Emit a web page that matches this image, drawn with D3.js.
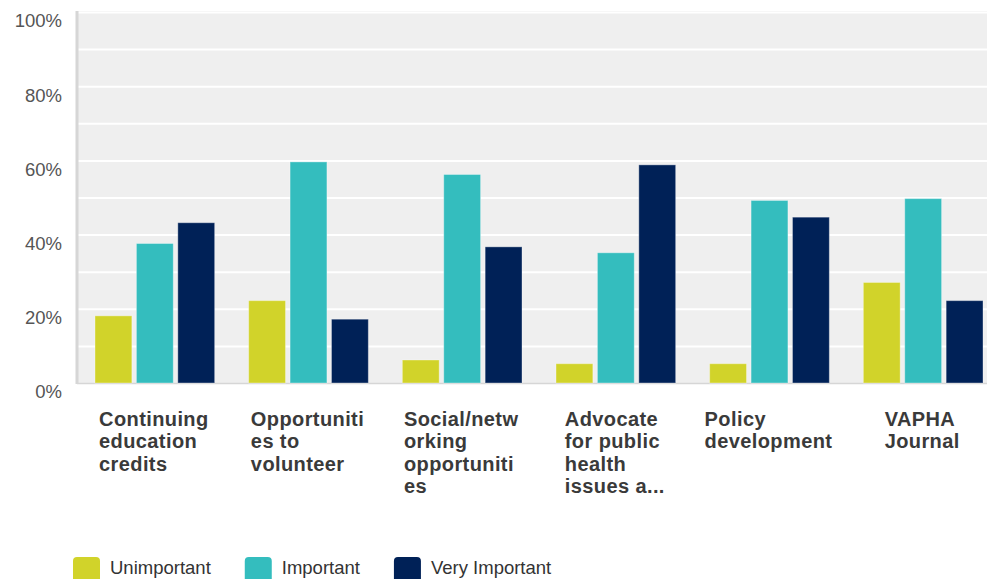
<!DOCTYPE html>
<html>
<head>
<meta charset="utf-8">
<script src="https://cdn.jsdelivr.net/npm/d3@7"></script>
<style>
  html, body { margin: 0; padding: 0; background: #ffffff; }
  svg { display: block; font-family: "Liberation Sans", Arial, sans-serif; }
</style>
</head>
<body>
<svg id="chart" width="987" height="579"></svg>
<script>
// Survey categories (wrapped lines as shown under each group)
const categories = [
  ["Continuing", "education", "credits"],
  ["Opportuniti", "es to", "volunteer"],
  ["Social/netw", "orking", "opportuniti", "es"],
  ["Advocate", "for public", "health", "issues a..."],
  ["Policy", "development"],
  ["VAPHA", "Journal"]
];
const seriesNames = ["Unimportant", "Important", "Very Important"];
const seriesColors = ["#D1D32A", "#34BDBE", "#002157"];
// Share of respondents per category (fractions)
const unimportant   = [0.181, 0.222, 0.062, 0.052, 0.052, 0.271];
const important     = [0.376, 0.596, 0.562, 0.351, 0.492, 0.497];
const veryImportant = [0.432, 0.172, 0.367, 0.588, 0.447, 0.222];
const yTicks = [0, 0.2, 0.4, 0.6, 0.8, 1.0];
const gridTicks = [0.1, 0.2, 0.3, 0.4, 0.5, 0.6, 0.7, 0.8, 0.9, 1.0];

const series = [unimportant, important, veryImportant];

const svg = d3.select("#chart");
const plot = { left: 77, right: 999, top: 11, bottom: 383 };

const x = d3.scaleBand()
  .domain(d3.range(categories.length))
  .range([plot.left, plot.right])
  .paddingInner(0)
  .paddingOuter(0);

const xInner = d3.scaleBand()
  .domain(d3.range(seriesNames.length))
  .range([18, x.bandwidth() - 16])
  .paddingInner(0.11);

const y = d3.scaleLinear().domain([0, 1]).range([plot.bottom, plot.top + 1]);

// Plot background
svg.append("rect")
  .attr("x", plot.left)
  .attr("y", plot.top)
  .attr("width", plot.right - plot.left)
  .attr("height", plot.bottom - plot.top)
  .attr("fill", "#EFEFEF");

// Horizontal gridlines
const grid = svg.append("g")
  .attr("transform", `translate(${plot.left},0)`)
  .call(d3.axisLeft(y).tickValues(gridTicks).tickSize(-(plot.right - plot.left)).tickFormat(""));
grid.select(".domain").remove();
grid.selectAll(".tick line").attr("stroke", "#ffffff").attr("stroke-width", 2);

// Left axis line and baseline
svg.append("line")
  .attr("x1", plot.left).attr("x2", plot.left)
  .attr("y1", plot.top).attr("y2", plot.bottom + 1)
  .attr("stroke", "#D6D6D6").attr("stroke-width", 3);
svg.append("line")
  .attr("x1", plot.left).attr("x2", plot.right)
  .attr("y1", plot.bottom + 0.5).attr("y2", plot.bottom + 0.5)
  .attr("stroke", "#D6D6D6").attr("stroke-width", 1.5);

// Y-axis labels
const yAxis = svg.append("g")
  .attr("transform", `translate(${plot.left - 15},0)`)
  .call(d3.axisLeft(y).tickValues(yTicks).tickSize(0).tickPadding(0).tickFormat(d3.format(".0%")));
yAxis.select(".domain").remove();
yAxis.selectAll("text")
  .attr("font-family", "'Liberation Sans', Arial, sans-serif")
  .attr("font-size", 18.5)
  .attr("fill", "#555555")
  .attr("dy", "0.32em")
  .attr("transform", "translate(0,9)");

// Bars
const groups = svg.append("g").selectAll("g")
  .data(categories.map((c, i) => i))
  .join("g")
  .attr("transform", i => `translate(${x(i)},0)`);

groups.selectAll("rect")
  .data(i => series.map((s, k) => ({ k, v: s[i] })))
  .join("rect")
  .attr("x", d => xInner(d.k))
  .attr("width", xInner.bandwidth())
  .attr("y", d => y(d.v))
  .attr("height", d => y(0) - y(d.v))
  .attr("fill", d => seriesColors[d.k])
  .attr("stroke", "rgba(255,255,255,0.35)")
  .attr("stroke-width", 1);

// Category labels: left-aligned lines, block centred under each group
const labels = svg.append("g").selectAll("text")
  .data(categories)
  .join("text")
  .attr("font-size", 20)
  .attr("font-weight", "bold")
  .attr("letter-spacing", 0.4)
  .attr("fill", "#3a3a3a")
  .attr("y", 426);

labels.each(function(lines, i) {
  const t = d3.select(this);
  lines.forEach((ln, j) => {
    t.append("tspan").attr("dy", j === 0 ? 0 : 22.3).text(ln);
  });
  let maxW = 0;
  t.selectAll("tspan").each(function() { maxW = Math.max(maxW, this.getComputedTextLength()); });
  const left = x(i) + x.bandwidth() / 2 - maxW / 2;
  t.selectAll("tspan").attr("x", left);
});

// Legend
const legend = svg.append("g").attr("transform", "translate(73,557)");
let lx = 0;
seriesNames.forEach((name, k) => {
  const g = legend.append("g").attr("transform", `translate(${lx},0)`);
  g.append("rect")
    .attr("width", 27).attr("height", 26)
    .attr("rx", 4).attr("ry", 4)
    .attr("fill", seriesColors[k]);
  const t = g.append("text")
    .attr("x", 37).attr("y", 11)
    .attr("dy", "0.35em")
    .attr("font-size", 18.5)
    .attr("fill", "#333333")
    .text(name);
  lx += 37 + t.node().getComputedTextLength() + 34;
});
</script>
</body>
</html>
